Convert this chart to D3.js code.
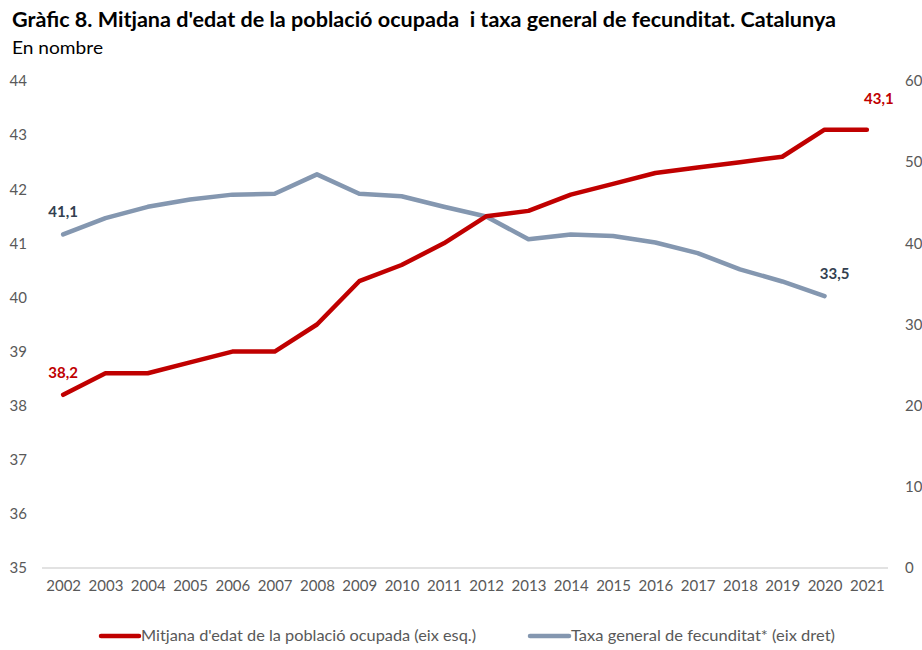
<!DOCTYPE html>
<html><head><meta charset="utf-8">
<script src="https://cdn.jsdelivr.net/npm/d3@7"></script>
<style>body{margin:0;background:#fff;} svg{display:block;font-family:Lato,"Open Sans",sans-serif;}</style>
</head><body><svg id="c" width="922" height="650"></svg>
<script>
const years = ["2002","2003","2004","2005","2006","2007","2008","2009","2010","2011","2012","2013","2014","2015","2016","2017","2018","2019","2020","2021"];
const edatMitjana = [38.2,38.6,38.6,38.8,39.0,39.0,39.5,40.3,40.6,41.0,41.5,41.6,41.9,42.1,42.3,42.4,42.5,42.6,43.1,43.1];
const taxaFecunditat = [41.1,43.1,44.5,45.4,46.0,46.1,48.5,46.1,45.8,44.5,43.3,40.5,41.1,40.9,40.1,38.8,36.8,35.3,33.5,null];
const leftTicks = [35,36,37,38,39,40,41,42,43,44];
const rightTicks = [0,10,20,30,40,50,60];
const title = "Gràfic 8. Mitjana d'edat de la població ocupada  i taxa general de fecunditat. Catalunya";
const subtitle = "En nombre";
const legendLabels = ["Mitjana d'edat de la població ocupada (eix esq.)","Taxa general de fecunditat* (eix dret)"];

const RED = "#C00000", BLUE = "#8497B0", AXT = "#595959", LBL2 = "#333F50";
const svg = d3.select("#c");
const x = d3.scalePoint().domain(years).range([42, 888]).padding(0.5);
const yL = d3.scaleLinear().domain([35,44]).range([568, 81]);
const yR = d3.scaleLinear().domain([0,60]).range([568, 81]);

svg.append("text").attr("x",12).attr("y",27).attr("font-size",20).attr("font-weight","bold").attr("fill","#000")
  .style("white-space","pre")
  .attr("textLength",824).attr("lengthAdjust","spacingAndGlyphs").text(title);
svg.append("text").attr("x",12).attr("y",54).attr("font-size",18).attr("fill","#000")
  .attr("textLength",91).attr("lengthAdjust","spacingAndGlyphs").text(subtitle);

// baseline
svg.append("line").attr("x1",42).attr("x2",888).attr("y1",yL(35)).attr("y2",yL(35)).attr("stroke","#D9D9D9").attr("stroke-width",1.3);

// left axis
const gl = svg.append("g").attr("transform","translate(27,0)")
  .call(d3.axisLeft(yL).tickValues(leftTicks).tickSize(0).tickPadding(0).tickFormat(d3.format("d")));
gl.select(".domain").remove();
gl.selectAll("text").attr("font-size",15).attr("fill",AXT).attr("font-family","Lato,'Open Sans',sans-serif");

// right axis
const gr = svg.append("g").attr("transform","translate(905,0)")
  .call(d3.axisRight(yR).tickValues(rightTicks).tickSize(0).tickPadding(0).tickFormat(d3.format("d")));
gr.select(".domain").remove();
gr.selectAll("text").attr("font-size",15).attr("fill",AXT).attr("font-family","Lato,'Open Sans',sans-serif");

// x axis
const gx = svg.append("g").attr("transform","translate(0,580)")
  .call(d3.axisBottom(x).tickSize(0).tickPadding(0));
gx.select(".domain").remove();
gx.selectAll("text").attr("font-size",15).attr("fill",AXT).attr("font-family","Lato,'Open Sans',sans-serif");

const lineL = d3.line().x((d,i)=>x(years[i])).y(d=>yL(d));
const lineR = d3.line().defined(d=>d!=null).x((d,i)=>x(years[i])).y(d=>yR(d));

svg.append("path").datum(taxaFecunditat).attr("d",lineR).attr("fill","none").attr("stroke",BLUE).attr("stroke-width",4.5).attr("stroke-linejoin","round").attr("stroke-linecap","round");
svg.append("path").datum(edatMitjana).attr("d",lineL).attr("fill","none").attr("stroke",RED).attr("stroke-width",4.5).attr("stroke-linejoin","round").attr("stroke-linecap","round");

const fmt = v => d3.format(".1f")(v).replace(".",",");
function lbl(xp, yp, txt, col, anchor){
  svg.append("text").attr("x",xp).attr("y",yp).attr("text-anchor",anchor||"middle").attr("font-size",15).attr("font-weight","bold").attr("fill",col).text(txt);
}
lbl(x(years[0]), yR(taxaFecunditat[0])-17, fmt(taxaFecunditat[0]), LBL2);
lbl(x(years[0]), yL(edatMitjana[0])-17, fmt(edatMitjana[0]), RED);
lbl(x(years[19])+12, yL(edatMitjana[19])-26, fmt(edatMitjana[19]), RED);
lbl(x(years[18])+10, yR(taxaFecunditat[18])-17, fmt(taxaFecunditat[18]), LBL2);

// legend
const lg = svg.append("g");
lg.append("line").attr("x1",101).attr("x2",139).attr("y1",636).attr("y2",636).attr("stroke",RED).attr("stroke-width",4.5).attr("stroke-linecap","round");
lg.append("text").attr("x",141).attr("y",641).attr("font-size",15).attr("fill",AXT).attr("textLength",335).attr("lengthAdjust","spacingAndGlyphs").text(legendLabels[0]);
lg.append("line").attr("x1",530).attr("x2",569).attr("y1",636).attr("y2",636).attr("stroke",BLUE).attr("stroke-width",4.5).attr("stroke-linecap","round");
lg.append("text").attr("x",571).attr("y",641).attr("font-size",15).attr("fill",AXT).attr("textLength",264).attr("lengthAdjust","spacingAndGlyphs").text(legendLabels[1]);
</script></body></html>
